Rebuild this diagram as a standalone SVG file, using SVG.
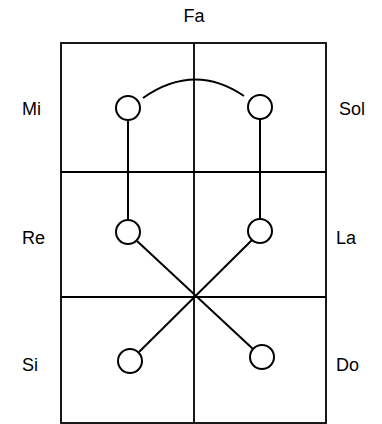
<svg xmlns="http://www.w3.org/2000/svg" width="382" height="424" viewBox="0 0 382 424">
<style>
.g{fill:none;stroke:#000;stroke-width:1.8}
.c{fill:#fff;stroke:#000;stroke-width:2}
.e{fill:none;stroke:#000;stroke-width:2}
text{font-family:"Liberation Sans","DejaVu Sans",sans-serif;font-size:18px;fill:#000}
</style>
<rect width="382" height="424" fill="#fff"/>
<g id="grid">
<rect class="g" x="61" y="43" width="265" height="380"/>
<line class="g" x1="194" y1="43" x2="194" y2="423"/>
<line class="g" x1="61" y1="172" x2="326" y2="172"/>
<line class="g" x1="61" y1="297" x2="326" y2="297"/>
</g>
<g id="labels">
<text x="194" y="22" text-anchor="middle">Fa</text>
<text x="22" y="115">Mi</text>
<text x="339" y="115">Sol</text>
<text x="22" y="244">Re</text>
<text x="336" y="244">La</text>
<text x="22" y="371">Si</text>
<text x="336" y="371">Do</text>
</g>
<g id="connectors">
<path class="e" d="M143 98 Q194 62 244 96"/>
<line class="e" x1="128" y1="120" x2="128" y2="220"/>
<line class="e" x1="260" y1="119" x2="260" y2="219"/>
<line class="e" x1="137" y1="241" x2="253" y2="349"/>
<line class="e" x1="252" y1="240" x2="139" y2="352"/>
</g>
<g id="n-mi"><circle class="c" cx="128" cy="108" r="12"/></g>
<g id="n-sol"><circle class="c" cx="260" cy="107" r="12"/></g>
<g id="n-re"><circle class="c" cx="128" cy="232" r="12"/></g>
<g id="n-la"><circle class="c" cx="260" cy="231" r="12"/></g>
<g id="n-si"><circle class="c" cx="130" cy="361" r="12"/></g>
<g id="n-do"><circle class="c" cx="262" cy="357" r="12"/></g>
</svg>
